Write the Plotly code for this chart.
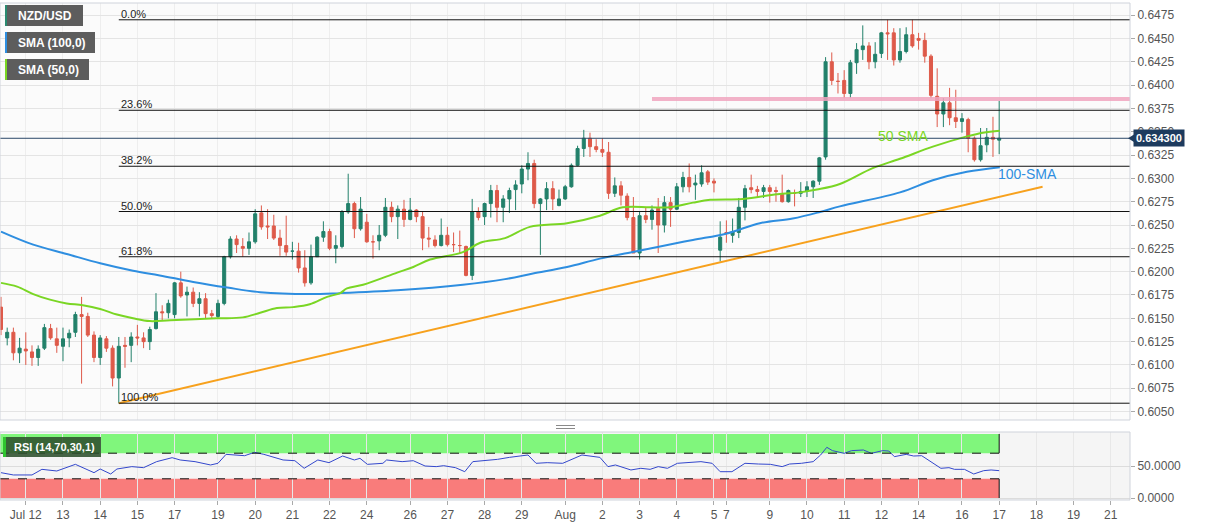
import plotly.graph_objects as go

# ---------------- data ----------------
opens = [
.6162,.6129,.6135,.6113,.6117,.6114,.6108,.6118,.6139,.6128,
.6120,.6129,.6135,.6154,.6152,.6132,.6108,.6128,.6118,.6086,
.6121,.6121,.6130,.6129,.6125,.6139,.6157,.6156,.6154,.6188,
.6175,.6178,.6166,.6171,.6155,.6152,.6166,.6216,.6235,.6227,
.6225,.6232,.6263,.6249,.6249,.6236,.6228,.6222,.6222,.6204,
.6188,.6216,.6237,.6243,.6225,.6227,.6264,.6273,.6246,.6253,
.6232,.6233,.6239,.6269,.6259,.6267,.6256,.6266,.6259,.6236,
.6234,.6228,.6239,.6229,.6228,.6227,.6196,.6264,.6259,.6273,
.6287,.6269,.6278,.6288,.6294,.6310,.6316,.6273,.6278,.6289,
.6271,.6278,.6291,.6314,.6332,.6343,.6334,.6331,.6328,.6284,
.6292,.6281,.6258,.6220,.6260,.6256,.6268,.6250,.6274,.6267,
.6291,.6301,.6293,.6294,.6307,.6297,.6223,.6242,.6239,.6242,
.6269,.6290,.6288,.6286,.6290,.6287,.6283,.6275,.6284,.6284,
.6286,.6291,.6297,.6323,.6425,.6404,.6405,.6391,.6424,.6438,
.6442,.6425,.6434,.6456,.6456,.6427,.6436,.6454,.6450,.6448,
.6431,.6388,.6369,.6381,.6365,.6361,.6363,.6343,.6320,.6336,
.6344,.6341]
highs = [
.6173,.6140,.6140,.6129,.6135,.6121,.6121,.6144,.6144,.6140,
.6140,.6138,.6157,.6173,.6156,.6136,.6132,.6131,.6121,.6130,
.6130,.6135,.6143,.6135,.6141,.6177,.6164,.6170,.6189,.6200,
.6184,.6183,.6178,.6177,.6159,.6170,.6217,.6238,.6239,.6236,
.6242,.6267,.6271,.6267,.6261,.6245,.6260,.6232,.6231,.6223,
.6229,.6238,.6254,.6246,.6239,.6266,.6305,.6275,.6280,.6262,
.6239,.6250,.6279,.6275,.6271,.6277,.6279,.6267,.6264,.6248,
.6239,.6257,.6248,.6242,.6244,.6228,.6278,.6269,.6274,.6293,
.6293,.6282,.6290,.6298,.6314,.6328,.6320,.6279,.6296,.6297,
.6288,.6293,.6316,.6335,.6352,.6349,.6342,.6343,.6339,.6301,
.6297,.6284,.6280,.6265,.6269,.6271,.6279,.6281,.6280,.6295,
.6307,.6316,.6304,.6314,.6309,.6300,.6254,.6255,.6257,.6279,
.6293,.6304,.6292,.6293,.6293,.6291,.6304,.6288,.6288,.6296,
.6297,.6298,.6323,.6430,.6435,.6413,.6416,.6427,.6445,.6464,
.6446,.6446,.6457,.6470,.6461,.6461,.6462,.6470,.6456,.6456,
.6433,.6418,.6386,.6397,.6395,.6370,.6365,.6345,.6354,.6354,
.6366,.6383]
lows = [
.6132,.6121,.6105,.6102,.6100,.6099,.6099,.6116,.6127,.6113,
.6104,.6119,.6130,.6080,.6130,.6103,.6100,.6114,.6077,.6059,
.6097,.6103,.6121,.6118,.6116,.6138,.6148,.6150,.6150,.6172,
.6152,.6162,.6152,.6150,.6150,.6150,.6164,.6214,.6220,.6216,
.6218,.6230,.6245,.6235,.6234,.6217,.6217,.6213,.6199,.6184,
.6186,.6216,.6232,.6223,.6209,.6225,.6262,.6236,.6244,.6231,
.6214,.6223,.6237,.6253,.6235,.6248,.6255,.6253,.6223,.6226,
.6226,.6227,.6227,.6221,.6220,.6195,.6191,.6255,.6250,.6258,
.6253,.6253,.6263,.6266,.6284,.6298,.6268,.6218,.6266,.6266,
.6270,.6277,.6290,.6313,.6323,.6323,.6328,.6323,.6278,.6280,
.6271,.6255,.6220,.6213,.6252,.6245,.6220,.6242,.6248,.6266,
.6285,.6285,.6277,.6291,.6293,.6285,.6211,.6231,.6231,.6236,
.6255,.6284,.6280,.6279,.6274,.6275,.6274,.6274,.6270,.6280,
.6280,.6279,.6293,.6320,.6400,.6391,.6386,.6386,.6412,.6427,
.6417,.6418,.6429,.6427,.6421,.6424,.6434,.6440,.6438,.6424,
.6386,.6355,.6355,.6357,.6354,.6349,.6328,.6318,.6318,.6328,
.6323,.6326]
closes = [
.6138,.6135,.6113,.6118,.6115,.6108,.6117,.6140,.6129,.6121,
.6128,.6134,.6154,.6152,.6132,.6108,.6129,.6118,.6086,.6120,
.6120,.6130,.6129,.6125,.6138,.6157,.6156,.6166,.6188,.6174,
.6178,.6166,.6171,.6155,.6153,.6166,.6216,.6235,.6229,.6225,
.6232,.6262,.6248,.6248,.6236,.6228,.6221,.6222,.6204,.6188,
.6216,.6237,.6243,.6225,.6228,.6264,.6273,.6246,.6267,.6232,
.6232,.6239,.6269,.6259,.6267,.6256,.6266,.6259,.6236,.6235,
.6228,.6239,.6229,.6229,.6228,.6196,.6264,.6258,.6273,.6287,
.6269,.6278,.6287,.6293,.6310,.6316,.6273,.6278,.6289,.6278,
.6278,.6291,.6314,.6332,.6343,.6334,.6331,.6328,.6284,.6292,
.6282,.6258,.6220,.6260,.6256,.6266,.6250,.6274,.6267,.6291,
.6301,.6291,.6295,.6306,.6296,.6295,.6237,.6241,.6243,.6269,
.6289,.6288,.6286,.6290,.6286,.6286,.6275,.6287,.6284,.6286,
.6291,.6297,.6322,.6425,.6405,.6404,.6391,.6424,.6438,.6442,
.6425,.6433,.6456,.6455,.6427,.6436,.6454,.6442,.6448,.6431,
.6389,.6369,.6381,.6365,.6361,.6364,.6343,.6320,.6335,.6344,
.6342,.6343]

# SMA lines, sampled along the drawn curves (candle index, price)
sma50_x = [0, 2.6, 5.2, 7.9, 10.6, 13.2, 16, 18.7, 21.3, 24, 27.3, 34.8, 39, 41.8, 44.5, 47.1,
           49.8, 52.6, 54.7, 55.8, 58.4, 63.9, 66.5, 69.2, 74.5, 77.3, 81.3, 85.3, 91.3, 96.6,
           100.3, 104.7, 107.9, 111.6, 114.4, 119.7, 125.2, 128.9, 131.6, 135.3, 140.6, 145,
           150.3, 155.8, 158.4, 161.1]
sma50_v = [.6188, .6184, .6176, .6170, .6166, .6164, .6160, .6154, .6150, .6147, .6148, .6150,
           .6151, .6156, .6161, .6162, .6165, .6173, .6177, .6182, .6186, .6199, .6205, .6213,
           .6221, .6231, .6236, .6248, .6252, .6260, .6269, .6269, .6269, .6274, .6277, .6278,
           .6283, .6285, .6288, .6294, .6311, .6321, .6334, .6345, .6349, .6351]
sma100_x = [0, 5.2, 10.6, 16, 21.3, 25.6, 31, 36.5, 41.8, 49.8, 54.7, 63.9, 74.5, 81.3, 85.8,
            91.3, 96.6, 101.9, 106.3, 111.6, 117.1, 122.4, 127.7, 132.1, 135.3, 145, 150.3,
            155.8, 161.1]
sma100_v = [.6243, .6229, .6219, .6209, .6201, .6196, .6189, .6183, .6178, .6176, .6177, .6180,
            .6186, .6192, .6198, .6205, .6214, .6221, .6227, .6234, .6241, .6252, .6257, .6264,
            .6270, .6285, .6298, .6307, .6312]

# RSI (14,70,30,1), sampled along the drawn curve
rsi_x = [0, 2, 5, 6.6, 9, 12, 15, 16, 17.7, 18.7, 21.1, 23, 25.1, 27.6, 28.9, 31.3, 33.8, 35,
         36.3, 39.3, 40.9, 42.4, 45.5, 47.4, 48.9, 51.1, 52.9, 55.1, 57, 57.9, 59.1, 61.6, 62.2,
         64.7, 66.5, 68.4, 70.2, 71.4, 73.3, 74.8, 76.1, 77.9, 80.1, 82, 85, 86.3, 88.1, 90.6,
         93.7, 96.6, 97.9, 99.1, 101.6, 103.2, 104.7, 106, 107.5, 109.1, 111, 112.9, 114.7, 116,
         117.9, 120, 122.2, 124.1, 126, 127.2, 129.1, 131, 132.2, 133.2, 134.1, 136, 137.2,
         139.1, 140.4, 142.2, 143.2, 144.1, 146, 147.2, 148.5, 150.4, 151.6, 152.9, 153.8,
         155.4, 156.9, 158.5, 159.7, 161]
rsi_v = [39.6, 36, 36, 44.8, 42.2, 52.6, 39.6, 45.3, 37.5, 45.3, 49, 47.4, 56.8, 63, 59.4, 56.8,
         51.6, 54.2, 68.2, 66.1, 71.4, 68.2, 59.4, 58.3, 46.4, 59.4, 55.2, 65.6, 59.4, 62, 52.6,
         54.2, 59.4, 56.8, 58.3, 50, 49, 50.5, 47.4, 41.1, 56.8, 58.3, 60.4, 63.5, 67.2, 54.2,
         55.2, 54.2, 67.2, 63.5,
         49, 51.6, 43.8, 46.4, 44.8, 49, 46.4, 54.2, 55.2, 56.8, 54.2, 41.1, 41.1, 54.2, 53.1,
         52.6, 49, 53.1, 54.2, 56.8, 67.2, 79.2, 74, 69.8, 74, 75, 69.8, 74, 73.4, 64.6, 68.2,
         65.6, 66.1, 54.2, 46.4, 47.4, 44.8, 44.8, 37.5, 42.7, 43.8, 42.7]

# trend line support (candle index, price)
trend_x = [19, 168]
trend_v = [0.6059, 0.6291]

# Fibonacci retracement (swing low index, swing low, swing high)
fib_start = 19
fib_low = 0.6059
fib_high = 0.6470
fib_ratios = [0.0, 0.236, 0.382, 0.5, 0.618, 1.0]
fib_labels = ["0.0%", "23.6%", "38.2%", "50.0%", "61.8%", "100.0%"]

resistance_x0 = 105
resistance = 0.6385
last_price = 0.6343

tick_idx = [4, 10, 16, 22, 28, 35, 41, 47, 53, 59, 66, 72, 78, 84, 91, 97, 103, 109, 115, 117,
            124, 130, 136, 142, 148, 155, 161, 167, 173, 179]
tick_txt = ["Jul 12", "13", "14", "15", "17", "19", "20", "21", "22", "24", "26", "27", "28",
            "29", "Aug", "2", "3", "4", "5", "7", "9", "10", "11", "12", "14", "16", "17", "18",
            "19", "21"]
price_ticks = [0.6050 + 0.0025 * k for k in range(18)]

# ---------------- layout constants ----------------
W, H = 1207, 526
ML, MR, MT, MB = 0, 77, 3, 26
PW, PH = W - ML - MR, H - MT - MB
XR = [-0.16, 182.1]
YR = [0.6041, 0.6488]
RR = [-3.1, 103.1]

def fx(px):
    return px / PW

def fy(py):
    return (H - MB - py) / PH

GREEN = "#22806a"
RED = "#de5a4a"
FONT = "Liberation Sans, Arial, sans-serif"
idx = list(range(len(opens)))

fig = go.Figure()

fig.add_trace(go.Candlestick(
    x=idx, open=opens, high=highs, low=lows, close=closes,
    increasing=dict(line=dict(color=GREEN, width=1), fillcolor=GREEN),
    decreasing=dict(line=dict(color=RED, width=1), fillcolor=RED),
    whiskerwidth=0, xaxis="x", yaxis="y", hoverinfo="skip"))

fig.add_trace(go.Scatter(x=trend_x, y=trend_v, mode="lines",
                         line=dict(color="#f7a11d", width=2), xaxis="x", yaxis="y"))
fig.add_trace(go.Scatter(x=sma100_x, y=sma100_v, mode="lines",
                         line=dict(color="#2e8ee0", width=2, shape="spline"), xaxis="x", yaxis="y"))
fig.add_trace(go.Scatter(x=sma50_x, y=sma50_v, mode="lines",
                         line=dict(color="#7ad624", width=2, shape="spline"), xaxis="x", yaxis="y"))

fig.add_trace(go.Scatter(x=rsi_x, y=rsi_v, mode="lines",
                         line=dict(color="#3347cc", width=1), xaxis="x2", yaxis="y2"))

shapes = []
# RSI panel background
shapes.append(dict(type="rect", xref="paper", yref="paper", x0=0, x1=1, y0=0, y1=fy(432),
                   fillcolor="#f5f5f5", line=dict(width=0), layer="below"))
# RSI zones
last_i = idx[-1]
shapes.append(dict(type="rect", xref="x2", yref="y2", x0=XR[0], x1=last_i, y0=70, y1=100,
                   fillcolor="#80f67c", line=dict(width=0), layer="below"))
shapes.append(dict(type="rect", xref="x2", yref="y2", x0=XR[0], x1=last_i, y0=0, y1=30,
                   fillcolor="#f97c7b", line=dict(width=0), layer="below"))
for lv in (70, 30):
    shapes.append(dict(type="line", xref="x2", yref="y2", x0=XR[0], x1=last_i, y0=lv, y1=lv,
                       line=dict(color="#111", width=1, dash="dash")))
shapes.append(dict(type="line", xref="x2", yref="y2", x0=last_i, x1=last_i, y0=70, y1=100,
                   line=dict(color="#111", width=1)))
shapes.append(dict(type="line", xref="x2", yref="y2", x0=last_i, x1=last_i, y0=0, y1=30,
                   line=dict(color="#111", width=1)))

# Fibonacci lines
fib_levels = [fib_high - r * (fib_high - fib_low) for r in fib_ratios]
for lv in fib_levels:
    shapes.append(dict(type="line", xref="x", yref="y", x0=fib_start, x1=XR[1], y0=lv, y1=lv,
                       line=dict(color="#111", width=1)))
# resistance zone and last price line
shapes.append(dict(type="line", xref="x", yref="y", x0=resistance_x0, x1=XR[1],
                   y0=resistance, y1=resistance, line=dict(color="rgba(240,165,190,0.85)", width=4)))
shapes.append(dict(type="line", xref="x", yref="y", x0=XR[0], x1=XR[1],
                   y0=last_price, y1=last_price, line=dict(color="#2a4767", width=1)))

# panel frames
shapes.append(dict(type="rect", xref="paper", yref="paper", x0=0, x1=1, y0=fy(420), y1=1,
                   line=dict(color="#cfd3db", width=1)))
shapes.append(dict(type="rect", xref="paper", yref="paper", x0=0, x1=1, y0=0, y1=fy(432),
                   line=dict(color="#cfd3db", width=1)))
# splitter handle
for yy in (425.5, 428.5):
    shapes.append(dict(type="line", xref="paper", yref="paper", x0=fx(556), x1=fx(575),
                       y0=fy(yy), y1=fy(yy), line=dict(color="#8a8a8a", width=1)))

# legend boxes
boxes = [("NZD/USD", 5, 83, 5, 26, "#2a8a70"),
         ("SMA (100,0)", 5, 95, 32, 53, "#2e8ee0"),
         ("SMA (50,0)", 5, 89, 59, 80, "#7ad624")]
annotations = []
for txt, x0, x1, y0, y1, col in boxes:
    shapes.append(dict(type="rect", xref="paper", yref="paper", x0=fx(x0), x1=fx(x1),
                       y0=fy(y1), y1=fy(y0), fillcolor="#5d5d5d", line=dict(width=0)))
    shapes.append(dict(type="rect", xref="paper", yref="paper", x0=fx(x0), x1=fx(x0 + 2),
                       y0=fy(y1), y1=fy(y0), fillcolor=col, line=dict(width=0)))
    annotations.append(dict(xref="paper", yref="paper", x=fx(x0 + 11), y=fy((y0 + y1) / 2),
                            xanchor="left", yanchor="middle", showarrow=False, text="<b>%s</b>" % txt,
                            font=dict(family=FONT, size=12, color="white")))
# RSI label
shapes.append(dict(type="rect", xref="paper", yref="paper", x0=fx(3), x1=fx(101),
                   y0=fy(457), y1=fy(437), fillcolor="rgba(45,80,45,0.88)", line=dict(width=0)))
shapes.append(dict(type="rect", xref="paper", yref="paper", x0=fx(3), x1=fx(6),
                   y0=fy(457), y1=fy(437), fillcolor="#2fc42f", line=dict(width=0)))
annotations.append(dict(xref="paper", yref="paper", x=fx(12), y=fy(447), xanchor="left",
                        yanchor="middle", showarrow=False, text="<b>RSI (14,70,30,1)</b>",
                        font=dict(family=FONT, size=11, color="white")))

# fib labels
for lv, lab in zip(fib_levels, fib_labels):
    annotations.append(dict(xref="x", yref="y", x=fib_start, y=lv, xanchor="left",
                            yanchor="bottom", showarrow=False, text=lab, yshift=-2,
                            font=dict(family=FONT, size=11, color="#222")))

# text labels on the chart
annotations.append(dict(xref="x", yref="y", x=145.5, y=0.6345, showarrow=False, text="50 SMA",
                        font=dict(family=FONT, size=14, color="#7ad624")))
annotations.append(dict(xref="x", yref="y", x=165.5, y=0.6305, showarrow=False, text="100-SMA",
                        font=dict(family=FONT, size=14, color="#2e8ee0")))

# last price tag
annotations.append(dict(xref="paper", yref="y", x=fx(1133), y=last_price, xanchor="left",
                        yanchor="middle", showarrow=False, text="<b>%.6f</b>" % last_price,
                        bgcolor="#1d3b5e", borderpad=2,
                        font=dict(family=FONT, size=11, color="white")))
shapes.append(dict(type="path", xref="paper", yref="y",
                   path="M %f,%f L %f,%f L %f,%f Z" % (fx(1128), last_price, fx(1134),
                                                      last_price + 0.0004, fx(1134), last_price - 0.0004),
                   fillcolor="#1d3b5e", line=dict(width=0)))

axis_font = dict(family=FONT, size=12, color="#555")
fig.update_layout(
    width=W, height=H, margin=dict(l=ML, r=MR, t=MT, b=MB),
    paper_bgcolor="white", plot_bgcolor="#fbfbfb", showlegend=False, hovermode=False,
    shapes=shapes, annotations=annotations,
    xaxis=dict(domain=[0, 1], range=XR, anchor="y", tickvals=tick_idx, showticklabels=False,
               showgrid=True, gridcolor="#eeeeee", zeroline=False, rangeslider=dict(visible=False),
               ticks=""),
    yaxis=dict(domain=[fy(420), 1], range=YR, side="right", anchor="x", tickvals=price_ticks,
               tickformat=".4f", showgrid=True, gridcolor="#e4e4e4", zeroline=False,
               ticks="outside", ticklen=4, tickcolor="#aaa", tickfont=axis_font),
    xaxis2=dict(domain=[0, 1], range=XR, anchor="y2", tickvals=tick_idx, ticktext=tick_txt,
                showgrid=True, gridcolor="#e8e8e8", zeroline=False, ticks="outside", ticklen=4,
                tickcolor="#aaa", tickfont=axis_font),
    yaxis2=dict(domain=[0, fy(432)], range=RR, side="right", anchor="x2", tickvals=[0, 50],
                ticktext=["0.0000", "50.0000"], showgrid=True, gridcolor="#dcdcdc", zeroline=False,
                ticks="outside", ticklen=4, tickcolor="#aaa", tickfont=axis_font),
)

fig.write_html("out.html", config={"displayModeBar": False},
               post_script="document.body.style.margin='0';document.body.style.padding='0';")
